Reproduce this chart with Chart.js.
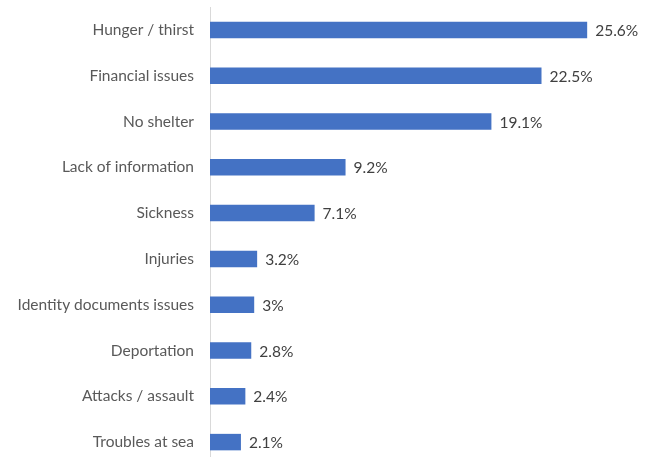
<!DOCTYPE html>
<html>
<head>
<meta charset="utf-8">
<script src="https://cdn.jsdelivr.net/npm/chart.js@4"></script>
<style>
  html, body { margin: 0; padding: 0; background: #fff; overflow: hidden; }
</style>
</head>
<body>
<canvas id="grafico" width="652" height="466"></canvas>
<script>
// categorias e valores
const categorias = [
    "Hunger / thirst",
    "Financial issues",
    "No shelter",
    "Lack of information",
    "Sickness",
    "Injuries",
    "Identity documents issues",
    "Deportation",
    "Attacks / assault",
    "Troubles at sea"
];
const valores = [25.6, 22.5, 19.1, 9.2, 7.1, 3.2, 3, 2.8, 2.4, 2.1];
const rotulos = ["25.6%", "22.5%", "19.1%", "9.2%", "7.1%", "3.2%", "3%", "2.8%", "2.4%", "2.1%"];

const fonte = "'Lato', 'Open Sans', sans-serif";

// escreve o valor ao lado de cada barra
const rotuloBarras = {
    id: "rotuloBarras",
    afterDatasetsDraw(chart) {
        const ctx = chart.ctx;
        const meta = chart.getDatasetMeta(0);
        ctx.save();
        ctx.font = "15.5px " + fonte;
        ctx.fillStyle = "#404040";
        ctx.textAlign = "left";
        ctx.textBaseline = "middle";
        meta.data.forEach((bar, i) => {
            ctx.fillText(rotulos[i], bar.x + 8, bar.y + 1);
        });
        ctx.restore();
    }
};

const ctx = document.getElementById("grafico").getContext("2d");
new Chart(ctx, {
    type: "bar",
    data: {
        labels: categorias,
        datasets: [{
            data: valores,
            backgroundColor: "#4472C4",
            borderColor: "#4472C4",
            borderWidth: 0,
            categoryPercentage: 1,
            barPercentage: 0.36
        }]
    },
    options: {
        indexAxis: "y",
        responsive: false,
        animation: false,
        layout: { padding: { top: 7, bottom: 1, left: 0, right: 0 } },
        plugins: {
            legend: { display: false },
            tooltip: { enabled: false }
        },
        scales: {
            x: {
                display: false,
                min: 0,
                max: 30
            },
            y: {
                grid: { display: false, drawTicks: false },
                border: { display: true, color: "#d9d9d9", width: 1 },
                ticks: {
                    color: "#595959",
                    font: { family: fonte, size: 15.5 },
                    padding: 16
                },
                afterFit(scale) {
                    scale.width = 210;
                    // tira o espaco extra que o eixo reserva em cima/baixo
                    scale.paddingTop = 0;
                    scale.paddingBottom = 0;
                }
            }
        }
    },
    plugins: [rotuloBarras]
});
</script>
</body>
</html>
